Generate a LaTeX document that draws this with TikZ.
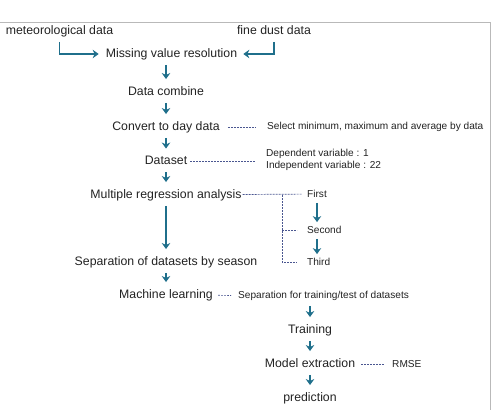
\documentclass[tikz,border=0pt]{standalone}
\usepackage{fontspec}
\setmainfont{Liberation Sans}
\usetikzlibrary{arrows.meta}
\definecolor{flowblue}{HTML}{1F6F8B}
\definecolor{guideblue}{HTML}{4A5690}
\definecolor{inkgray}{HTML}{222222}

\begin{document}
\begin{tikzpicture}[x=1pt,y=-1pt,
        mainbox/.style={inner sep=1pt,text height=9pt,text depth=2.5pt,text=inkgray,font=\fontsize{12.3}{14}\selectfont},
        infobox/.style={inner sep=1pt,text=inkgray,font=\fontsize{10.1}{12}\selectfont},
        flow/.style={-{Stealth[length=6pt,width=8.5pt]},line width=1.8pt,draw=flowblue,shorten <=4pt,shorten >=6pt},
        guide/.style={draw=guideblue,line width=0.7pt,dash pattern=on 1.8pt off 1.2pt,shorten <=4pt,shorten >=6pt}]
        \useasboundingbox (0,0) rectangle (497,410);
        \draw[gray!55,line width=1pt] (0,22) -- (490,22) -- (490,410);

        \node[mainbox] (met) at (59.5,31) {meteorological data};
        \node[mainbox] (fine) at (274,31) {fine dust data};
        \node[mainbox] (miss) at (171.5,54) {Missing value resolution};
        \node[mainbox] (comb) at (166,92) {Data combine};
        \node[mainbox] (conv) at (166,127) {Convert to day data};
        \node[mainbox] (dset) at (166,161.5) {Dataset};
        \node[mainbox] (mra) at (166,195) {Multiple regression analysis};
        \node[mainbox] (season) at (166,262) {Separation of datasets by season};
        \node[mainbox] (ml) at (166,295) {Machine learning};
        \node[mainbox] (train) at (310,330) {Training};
        \node[mainbox] (model) at (310,364) {Model extraction};
        \node[mainbox] (pred) at (310,398) {prediction};

        \node[infobox,anchor=west] (sel) at (266,127) {Select minimum, maximum and average by data};
        \node[infobox,anchor=west,align=left] (dsinfo) at (265,160) {Dependent variable : 1\\Independent variable : 22};
        \node[infobox,anchor=west] (first) at (306,194) {First};
        \node[infobox,anchor=west] (second) at (306,230) {Second};
        \node[infobox,anchor=west] (third) at (306,262) {Third};
        \node[infobox,anchor=west] (sept) at (237,296) {Separation for training/test of datasets};
        \node[infobox,anchor=west] (rmse) at (391,364) {RMSE};
        \coordinate (fork) at (282,195);

        \draw[flow] (met) |- (miss);
        \draw[flow,shorten >=5pt] (fine) |- (miss);
        \draw[flow] (comb |- miss.south) -- (comb);
        \draw[flow] (comb) -- (conv);
        \draw[flow] (conv) -- (dset);
        \draw[flow] (dset) -- (mra);
        \draw[flow] (mra) -- (season);
        \draw[flow] (season) -- (ml);
        \draw[flow] (train |- sept.south) -- (train);
        \draw[flow] (train) -- (model);
        \draw[flow] (model) -- (pred);
        \draw[flow,shorten >=3pt] ([xshift=11pt]first.south west) -- ([xshift=11pt]second.north west);
        \draw[flow,shorten >=3pt] ([xshift=11pt]second.south west) -- ([xshift=11pt]third.north west);

        \draw[guide,shorten <=7pt,shorten >=10pt] (conv) -- (sel);
        \draw[guide,shorten <=2pt,shorten >=9pt] (dset) -- (dset -| dsinfo.west);
        \draw[guide,shorten <=0pt,shorten >=4pt] (mra) -- (first);
        \draw[guide,shorten <=0pt,shorten >=9pt] (fork) |- (third);
        \draw[guide,shorten <=0pt,shorten >=9pt] (fork |- second) -- (second);
        \draw[guide] (ml) -- (sept);
        \draw[guide,shorten <=5pt] (model) -- (rmse);
\end{tikzpicture}
\end{document}
